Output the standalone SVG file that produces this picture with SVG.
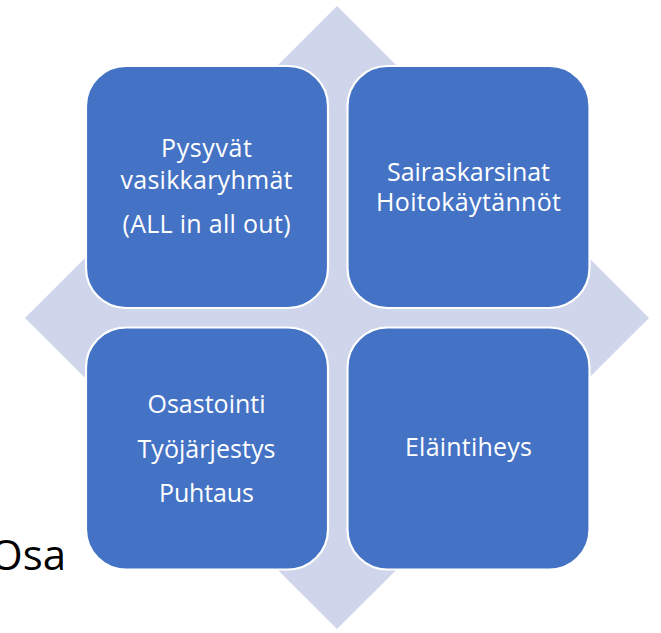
<svg xmlns="http://www.w3.org/2000/svg" width="661" height="633" viewBox="0 0 661 633">
  <style>
    .bg { fill: #CFD5EA; }
    .box { fill: #4472C4; stroke: #FFFFFF; stroke-width: 2.2; }
    .lbl { fill: #FFFFFF; font-family: "Open Sans", "Noto Sans", "Liberation Sans", sans-serif; font-size: 25px; text-anchor: middle; }
    .osa { fill: #000000; font-family: "Open Sans", "Noto Sans", "Liberation Sans", sans-serif; font-size: 42px; text-anchor: end; }
  </style>
  <rect x="0" y="0" width="661" height="633" fill="#FFFFFF"/>
  <g id="connectors"></g>
  <g id="background-diamond">
    <path class="bg" d="M337,6 L649,318 L337,629 L25,318 Z"/>
  </g>
  <g id="osa">
    <text class="osa" x="66" y="570">Osa</text>
  </g>
  <g id="node-top-left">
    <rect class="box" x="86" y="66" width="242" height="242" rx="40" ry="40"/>
    <text class="lbl" x="206.5" y="157" textLength="91">Pysyvät</text>
    <text class="lbl" x="206.5" y="188.5" textLength="172">vasikkaryhmät</text>
    <text class="lbl" x="206.5" y="233" textLength="168">(ALL in all out)</text>
  </g>
  <g id="node-top-right">
    <rect class="box" x="347.5" y="66" width="242" height="242" rx="40" ry="40"/>
    <text class="lbl" x="468.5" y="181" textLength="163">Sairaskarsinat</text>
    <text class="lbl" x="468.5" y="210.5" textLength="185">Hoitokäytännöt</text>
  </g>
  <g id="node-bottom-left">
    <rect class="box" x="86" y="327.5" width="242" height="242" rx="40" ry="40"/>
    <text class="lbl" x="206.5" y="413" textLength="118">Osastointi</text>
    <text class="lbl" x="206.5" y="458" textLength="138">Työjärjestys</text>
    <text class="lbl" x="206.5" y="502" textLength="95">Puhtaus</text>
  </g>
  <g id="node-bottom-right">
    <rect class="box" x="347.5" y="327.5" width="242" height="242" rx="40" ry="40"/>
    <text class="lbl" x="468.5" y="456" textLength="127">Eläintiheys</text>
  </g>
</svg>
